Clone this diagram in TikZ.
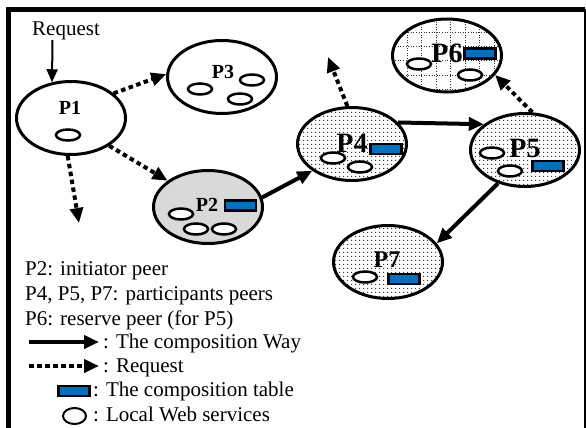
\documentclass[tikz,border=0pt]{standalone}
\usepackage{fontspec}
\setmainfont{Liberation Serif}
\usetikzlibrary{arrows.meta,shapes.geometric,patterns.meta}
\definecolor{ink}{HTML}{000000}
\definecolor{tableblue}{HTML}{0070C0}
\definecolor{initgray}{HTML}{D9D9D9}
\tikzset{
  every picture/.style={x=1pt, y=-1pt, font=\fontsize{21}{24}\selectfont},
  peer/.style={ellipse, draw=ink, line width=3pt, fill=white, minimum width=109pt, minimum height=73pt, inner sep=0pt},
  initiator/.style={peer, fill=initgray},
  participant/.style={peer, pattern={Dots[distance=4pt, radius=0.8pt]}, pattern color=ink!85},
  gridline/.style={draw=ink!80, line width=1pt, dash pattern=on 1pt off 1.6pt},
  reserve/.style={peer, path picture={
    \foreach \k in {1,...,7}
      \draw[gridline] ([xshift=\k*14.5pt]path picture bounding box.north west) -- ([xshift=\k*14.5pt]path picture bounding box.south west);
    \foreach \k in {1,...,5}
      \draw[gridline] ([yshift=-\k*14pt]path picture bounding box.north west) -- ([yshift=-\k*14pt]path picture bounding box.north east);
  }},
  tag/.style={font=\fontsize{20}{20}\selectfont\bfseries, inner sep=0pt},
  bigtag/.style={font=\fontsize{28}{28}\selectfont\bfseries, inner sep=0pt},
  ws/.style={ellipse, draw=ink, line width=2.5pt, fill=white, minimum width=24pt, minimum height=11pt, inner sep=0pt},
  ctable/.style={rectangle, draw=ink, line width=2.5pt, fill=tableblue, minimum width=31pt, minimum height=10pt, inner sep=0pt},
  way/.style={-{Triangle[length=15pt, width=13pt]}, line width=4pt, draw=ink},
  req/.style={way, dash pattern=on 4.5pt off 3.5pt},
  legend/.style={anchor=base west, inner sep=0pt},
  frame/.style={draw=ink, line width=5pt},
}
\begin{document}
\begin{tikzpicture}
\useasboundingbox (0,0) rectangle (586,428);
\draw[frame] (8.5,428) -- (8.5,9.5) -- (585,9.5);
\draw[draw=ink, line width=2pt] (584.5,9.5) -- (584.5,428);

\node[peer] (p1) at (71,118) {};
\node[tag] (p1t) at (70,108) {P1};
\node[ws] (p1w) at (68,135) {};

\node[peer] (p3) at (222,77) {};
\node[tag] (p3t) at (223,72) {P3};
\node[ws] (p3wa) at (200,89) {};
\node[ws] (p3wb) at (252,80) {};
\node[ws] (p3wc) at (240,99) {};

\node[initiator] (p2) at (208,207) {};
\node[tag] (p2t) at (207,205) {P2};
\node[ctable] (p2c) at (240.5,205.5) {};
\node[ws] (p2wa) at (181,214) {};
\node[ws] (p2wb) at (196,229) {};
\node[ws] (p2wc) at (224,229) {};

\node[participant] (p4) at (352,144) {};
\node[bigtag] (p4t) at (352,143) {P4};
\node[ctable] (p4c) at (386,149) {};
\node[ws] (p4wa) at (333,158) {};
\node[ws] (p4wb) at (360,167) {};

\node[participant] (p5) at (525,150) {};
\node[bigtag] (p5t) at (525,148) {P5};
\node[ws] (p5wa) at (492,153) {};
\node[ws] (p5wb) at (510,171) {};
\node[ctable] (p5c) at (548,166) {};

\node[reserve] (p6) at (447,55.5) {};
\node[bigtag] (p6t) at (447,53) {P6};
\node[ctable] (p6c) at (480,53.5) {};
\node[ws] (p6wa) at (419,64) {};
\node[ws] (p6wb) at (470,75) {};

\node[participant] (p7) at (388,262) {};
\node[tag, font=\fontsize{24}{24}\selectfont\bfseries] (p7t) at (387,260) {P7};
\node[ws] (p7w) at (365,277) {};
\node[ctable] (p7c) at (404,279) {};

\node[legend] (req) at (32,36) {Request};
\coordinate (reqtop) at (52.5,40);
\draw[way, line width=2pt, -{Triangle[length=13pt, width=11pt]}] (reqtop) -- (p1.118);

\coordinate (p1down) at (79,223);
\coordinate (p4up) at (328,57);
\draw[req] (p1.30) -- (p3.177);
\draw[req] (p1.-36) -- (p2.147);
\draw[req] (p1.-95) -- (p1down);
\draw[req] (p4.97) -- (p4up);
\draw[req] (p5.79) -- (p6.-22);

\draw[way] (p2.10) -- (p4.214);
\draw[way] (p4.25) -- (p5.148);
\draw[way] (p5.231) -- (p7.21);

\node[legend] (lg1) at (25,275) {P2: initiator peer};
\node[legend] (lg2) at (25,300) {P4, P5, P7: participants peers};
\node[legend] (lg3) at (25,325) {P6: reserve peer (for P5)};
\node[legend] (lgway) at (103,348) {: The composition Way};
\node[legend] (lgreq) at (103,372) {: Request};
\node[legend] (lgtab) at (93,396) {: The composition table};
\node[legend] (lgws) at (93,421) {: Local Web services};
\coordinate (lw0) at (29,342);
\coordinate (lw1) at (99,342);
\coordinate (lr0) at (29,366);
\coordinate (lr1) at (99,366);
\draw[way] (lw0) -- (lw1);
\draw[req] (lr0) -- (lr1);
\node[ctable] (lgc) at (74,391) {};
\node[ellipse, draw=ink, line width=2pt, minimum width=23pt, minimum height=16pt, inner sep=0pt] (lge) at (74.5,416) {};
\end{tikzpicture}
\end{document}
